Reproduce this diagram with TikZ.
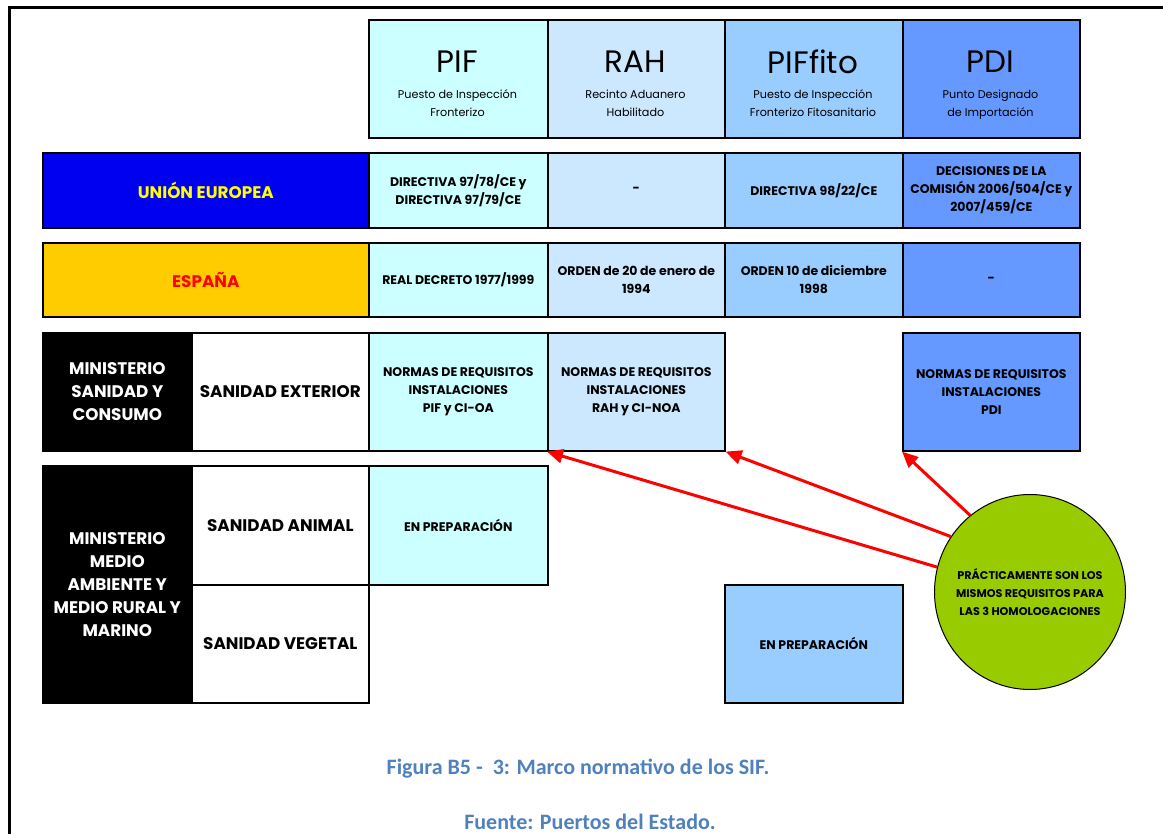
\documentclass[tikz,border=0pt]{standalone}
\usepackage{fontspec}
\setmainfont{Poppins}
\newfontfamily\capfont{Carlito}
\usetikzlibrary{arrows.meta,shapes.geometric}

\definecolor{cPIF}{HTML}{CCFFFF}
\definecolor{cRAH}{HTML}{CCE8FF}
\definecolor{cFito}{HTML}{99CCFF}
\definecolor{cPDI}{HTML}{6699FF}
\definecolor{ueblue}{HTML}{0000F0}
\definecolor{ueyellow}{HTML}{FFFF00}
\definecolor{esorange}{HTML}{FFCC00}
\definecolor{esred}{HTML}{FF0000}
\definecolor{notegreen}{HTML}{99CC00}
\definecolor{capblue}{HTML}{4F81BD}

\begin{document}
\begin{tikzpicture}[x=1pt,y=-1pt,
  cell/.style={draw=black, line width=1.6pt, inner sep=0pt, anchor=north west,
    align=center, font=\fontsize{12.5}{18}\selectfont\bfseries},
  lab/.style={cell, font=\fontsize{16.8}{23}\selectfont\bfseries},
  title/.style={inner sep=0pt, font=\fontsize{31}{36}\selectfont},
  subtitle/.style={inner sep=0pt, align=center, font=\fontsize{11.2}{18}\selectfont},
  redarrow/.style={draw=esred, line width=3pt, -{Triangle[length=16pt,width=14pt]}},
  capt/.style={inner sep=0pt, text=capblue, font=\capfont\bfseries\fontsize{22}{24}\selectfont}
]
\useasboundingbox (0,0) rectangle (1163,834);

% page frame
\draw[line width=3pt] (9,834) -- (9,8) -- (1163,8);

% column headers
\node[cell, fill=cPIF,  minimum width=179, minimum height=118] (hPIF)  at (368,19) {};
\node[cell, fill=cRAH,  minimum width=177, minimum height=118] (hRAH)  at (547,19) {};
\node[cell, fill=cFito, minimum width=178, minimum height=118] (hFito) at (724,19) {};
\node[cell, fill=cPDI,  minimum width=177, minimum height=118] (hPDI)  at (902,19) {};
\node[title] (tPIF)  at (457.5,62) {PIF};
\node[title] (tRAH)  at (635.5,62) {RAH};
\node[title] (tFito) at (813,62)   {PIFfito};
\node[title] (tPDI)  at (990.5,62) {PDI};
\node[subtitle] (sPIF)  at (457.5,104) {\strut Puesto de Inspección\\\strut Fronterizo};
\node[subtitle] (sRAH)  at (635.5,104) {\strut Recinto Aduanero\\\strut Habilitado};
\node[subtitle] (sFito) at (813,104)   {\strut Puesto de Inspección\\\strut Fronterizo Fitosanitario};
\node[subtitle] (sPDI)  at (990.5,104) {\strut Punto Designado\\\strut de Importación};

% European Union row
\node[lab, fill=ueblue, text=ueyellow, minimum width=326, minimum height=75] (ue) at (42,152) {UNIÓN EUROPEA};
\node[cell, fill=cPIF,  minimum width=179, minimum height=75] (uePIF)  at (368,152) {DIRECTIVA 97/78/CE y\\DIRECTIVA 97/79/CE};
\node[cell, fill=cRAH,  minimum width=177, minimum height=75] (ueRAH)  at (547,152) {-};
\node[cell, fill=cFito, minimum width=178, minimum height=75] (ueFito) at (724,152) {DIRECTIVA 98/22/CE};
\node[cell, fill=cPDI,  minimum width=177, minimum height=75] (uePDI)  at (902,152) {DECISIONES DE LA\\COMISIÓN 2006/504/CE y\\2007/459/CE};

% Spain row
\node[lab, fill=esorange, text=esred, minimum width=326, minimum height=74] (es) at (42,242) {ESPAÑA};
\node[cell, fill=cPIF,  minimum width=179, minimum height=74] (esPIF)  at (368,242) {REAL DECRETO 1977/1999};
\node[cell, fill=cRAH,  minimum width=177, minimum height=74] (esRAH)  at (547,242) {ORDEN de 20 de enero de\\1994};
\node[cell, fill=cFito, minimum width=178, minimum height=74] (esFito) at (724,242) {ORDEN 10 de diciembre\\1998};
\node[cell, fill=cPDI,  minimum width=177, minimum height=74] (esPDI)  at (902,242) {-};

% Ministry of Health
\node[lab, fill=black, text=white, minimum width=149, minimum height=118] (msc) at (42,332) {MINISTERIO\\SANIDAD Y\\CONSUMO};
\node[lab, fill=white, minimum width=177, minimum height=118] (sext) at (191,332) {SANIDAD EXTERIOR};
\node[cell, fill=cPIF, minimum width=179, minimum height=118] (sePIF) at (368,332) {NORMAS DE REQUISITOS\\INSTALACIONES\\PIF y CI-OA};
\node[cell, fill=cRAH, minimum width=177, minimum height=118] (seRAH) at (547,332) {NORMAS DE REQUISITOS\\INSTALACIONES\\RAH y CI-NOA};
\node[cell, fill=cPDI, minimum width=177, minimum height=118] (sePDI) at (902,332) {NORMAS DE REQUISITOS\\INSTALACIONES\\PDI};

% Ministry of Environment
\node[lab, fill=black, text=white, minimum width=149, minimum height=237] (mma) at (42,465) {MINISTERIO\\MEDIO\\AMBIENTE Y\\MEDIO RURAL Y\\MARINO};
\node[lab, fill=white, minimum width=177, minimum height=119] (sanim) at (191,465) {SANIDAD ANIMAL};
\node[cell, fill=cPIF, minimum width=179, minimum height=119] (saPIF) at (368,465) {EN PREPARACIÓN};
\node[lab, fill=white, minimum width=177, minimum height=118] (sveg) at (191,584) {SANIDAD VEGETAL};
\node[cell, fill=cFito, minimum width=178, minimum height=118] (svFito) at (724,584) {EN PREPARACIÓN};

% note and arrows
\node[ellipse, draw=black, line width=1pt, fill=notegreen, inner sep=0pt,
      minimum width=191, minimum height=195] (ell) at (1030,592) {};
\node[inner sep=0pt, align=center, font=\fontsize{11.2}{18}\selectfont\bfseries] (note) at (ell.center)
  {PRÁCTICAMENTE SON LOS\\MISMOS REQUISITOS PARA\\LAS 3 HOMOLOGACIONES};
\draw[redarrow] (ell.165) -- (seRAH.south west);
\draw[redarrow] (ell.145) -- (seRAH.south east);
\draw[redarrow] (ell.128) -- (sePDI.south west);

% caption
\node[capt] (cap1) at (578,769) {Figura B5 -\ \ 3: Marco normativo de los SIF.};
\node[capt] (cap2) at (590,822) {Fuente: Puertos del Estado.};
\end{tikzpicture}
\end{document}
